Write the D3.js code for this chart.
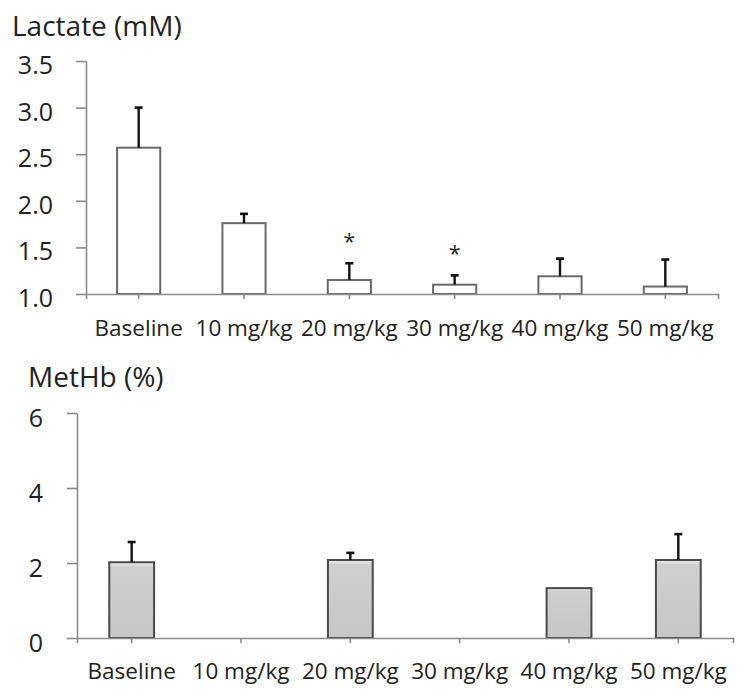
<!DOCTYPE html>
<html>
<head>
<meta charset="utf-8">
<script src="https://cdn.jsdelivr.net/npm/d3@7"></script>
<style>
  body{margin:0;background:#fff;}
  svg text{font-family:"Open Sans",sans-serif;fill:#222;}
</style>
</head>
<body>
<div class="canvas"></div>
<script>
// data
const categories=['Baseline','10 mg/kg','20 mg/kg','30 mg/kg','40 mg/kg','50 mg/kg'];
const lactateMean=[2.57,1.76,1.15,1.10,1.19,1.08];
const lactateSD=[0.43,0.10,0.18,0.10,0.19,0.29];
const lactateSig=[false,false,true,true,false,false];
const lactateTicks=[1.0,1.5,2.0,2.5,3.0,3.5];
const methbMean=[2.02,null,2.08,null,1.33,2.08];
const methbSD=[0.54,null,0.19,null,null,0.69];
const methbTicks=[0,2,4,6];

const svg=d3.select('.canvas')
  .append('svg')
    .attr('width',748)
    .attr('height',699);

const defs=svg.append('defs');
const grad=defs.append('linearGradient')
  .attr('id','greyfill')
  .attr('x1',0).attr('y1',0).attr('x2',0).attr('y2',1);
grad.append('stop').attr('offset','0%').attr('stop-color','#f0f0f0');
grad.append('stop').attr('offset','6%').attr('stop-color','#cfcfcf');
grad.append('stop').attr('offset','100%').attr('stop-color','#c6c6c6');

const axisColor='#8a8a8a';

//draws one panel
const panel=(opt)=>{
  const g=svg.append('g');

  const x=d3.scaleBand()
    .domain(categories)
    .range([opt.left,opt.right])
    .paddingInner(0.59)
    .paddingOuter(0.295);

  const y=d3.scaleLinear()
    .domain(opt.domain)
    .range([opt.bottom,opt.top]);

  //y axis
  const yAxis=d3.axisLeft(y)
    .tickValues(opt.ticks)
    .tickSize(10)
    .tickSizeOuter(0)
    .tickPadding(opt.tickPad)
    .tickFormat(opt.fmt);
  const yg=g.append('g')
    .attr('transform',`translate(${opt.left},0)`)
    .call(yAxis);
  yg.selectAll('path,line').attr('stroke',axisColor).attr('stroke-width',1.6);
  yg.selectAll('text')
    .attr('font-size',opt.tickFont)
    .attr('dy',opt.tickDy)
    .attr('fill','#222');

  //bars
  const rows=categories.map((c,i)=>({c,v:opt.mean[i],sd:opt.sd[i],sig:opt.sig?opt.sig[i]:false}))
    .filter(d=>d.v!=null);

  g.selectAll('rect.bar')
    .data(rows)
    .enter()
    .append('rect')
      .attr('class','bar')
      .attr('x',d=>x(d.c))
      .attr('y',d=>y(d.v))
      .attr('width',x.bandwidth())
      .attr('height',d=>y(opt.domain[0])-y(d.v))
      .attr('fill',opt.fill)
      .attr('stroke',opt.stroke)
      .attr('stroke-width',2);

  //error bars (upper only)
  const err=rows.filter(d=>d.sd!=null);
  const cx=d=>x(d.c)+x.bandwidth()/2;
  g.selectAll('line.err')
    .data(err)
    .enter()
    .append('line')
      .attr('x1',cx).attr('x2',cx)
      .attr('y1',d=>y(d.v))
      .attr('y2',d=>y(d.v+d.sd))
      .attr('stroke','#111')
      .attr('stroke-width',2.4);
  g.selectAll('line.cap')
    .data(err)
    .enter()
    .append('line')
      .attr('x1',d=>cx(d)-4).attr('x2',d=>cx(d)+4)
      .attr('y1',d=>y(d.v+d.sd))
      .attr('y2',d=>y(d.v+d.sd))
      .attr('stroke','#111')
      .attr('stroke-width',2.6);

  //significance stars
  g.selectAll('text.star')
    .data(rows.filter(d=>d.sig))
    .enter()
    .append('text')
      .attr('x',cx)
      .attr('y',d=>y(d.v+d.sd)-14)
      .attr('text-anchor','middle')
      .attr('font-size',21)
      .attr('fill','#333')
      .text('*');

  //x axis
  const xAxis=d3.axisBottom(x)
    .tickSize(5)
    .tickSizeOuter(5)
    .tickPadding(opt.labelPad);
  const xg=g.append('g')
    .attr('transform',`translate(0,${opt.bottom})`)
    .call(xAxis);
  xg.selectAll('path,line').attr('stroke',axisColor).attr('stroke-width',1.6);
  xg.selectAll('text')
    .attr('font-size',opt.labelFont)
    .attr('fill','#222');

  //title
  g.append('text')
    .attr('x',opt.titleX)
    .attr('y',opt.titleY)
    .attr('font-size',opt.titleFont)
    .text(opt.title);
};

panel({
  left:86,right:718,top:61,bottom:294,
  domain:[1,3.5],ticks:lactateTicks,fmt:d3.format('.1f'),
  mean:lactateMean,sd:lactateSD,sig:lactateSig,
  fill:'#ffffff',stroke:'#6a6a6a',
  tickFont:25,tickPad:23,tickDy:'0.5em',
  labelFont:22.5,labelPad:21,
  title:'Lactate (mM)',titleX:12,titleY:36,titleFont:28
});

panel({
  left:77,right:733,top:413,bottom:638,
  domain:[0,6],ticks:methbTicks,fmt:d3.format('d'),
  mean:methbMean,sd:methbSD,sig:null,
  fill:'url(#greyfill)',stroke:'#4a4a4a',
  tickFont:25,tickPad:24,tickDy:'0.55em',
  labelFont:22.5,labelPad:20,
  title:'MetHb (%)',titleX:28,titleY:387,titleFont:28
});
</script>
</body>
</html>
